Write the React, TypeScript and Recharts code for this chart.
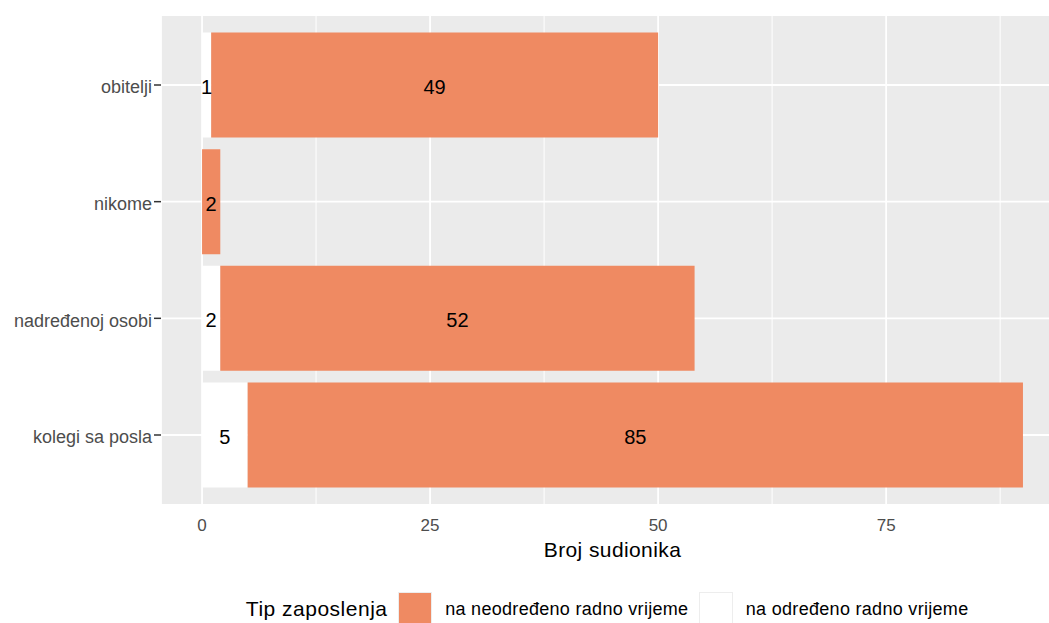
import { BarChart, Bar, XAxis, YAxis, CartesianGrid, LabelList, Legend } from 'recharts';

const categories = ['obitelji', 'nikome', 'nadređenoj osobi', 'kolegi sa posla'];
const naNeodredeno = [49, 2, 52, 85];
const naOdredeno = [1, 0, 2, 5];
const xTicks = [0, 25, 50, 75];
const xMinorTicks = [12.5, 37.5, 62.5, 87.5];

const FONT = 'Arial, "Liberation Sans", sans-serif';
const ORANGE = '#EF8A62';
const WHITE = '#FFFFFF';

const legendItems = [
    { label: 'na neodređeno radno vrijeme', color: ORANGE },
    { label: 'na određeno radno vrijeme', color: WHITE },
];

const data = categories.map((name, i) => ({
    name,
    odredeno: naOdredeno[i],
    neodredeno: naNeodredeno[i],
}));

// empty slices get no label (nikome has no "na određeno" count)
const hideZero = (v: any) => (v ? v : '');

const renderLegend = () => (
    <div style={{ display: 'flex', alignItems: 'center', justifyContent: 'center', height: 34, fontFamily: FONT }}>
        <span style={{ fontSize: 21, letterSpacing: 0.5, color: '#000', marginRight: 11 }}>Tip zaposlenja</span>
        {legendItems.map((item) => (
            <div key={item.label} style={{ display: 'flex', alignItems: 'center' }}>
                <div
                    style={{
                        width: 34,
                        height: 34,
                        boxSizing: 'border-box',
                        background: item.color,
                        border: '1px solid #EDEDED',
                    }}
                />
                <span style={{ fontSize: 18, letterSpacing: 0.3, color: '#000', marginLeft: 12.7, marginRight: 10.7 }}>
                    {item.label}
                </span>
            </div>
        ))}
    </div>
);

const App = () => {
    return (
        <div
            style={{
                position: 'absolute',
                left: 0,
                top: 0,
                width: 1049,
                height: 623,
                overflow: 'hidden',
                background: '#fff',
            }}
        >
            <BarChart
                width={1064}
                height={623}
                data={data}
                layout="vertical"
                margin={{ top: 15, right: 0, left: 0, bottom: 0 }}
                barCategoryGap="5%"
                style={{ fontFamily: FONT }}
            >
                <CartesianGrid
                    fill="#EBEBEB"
                    stroke="#FFFFFF"
                    strokeWidth={1}
                    horizontal={false}
                    verticalValues={xMinorTicks}
                />
                <CartesianGrid fill="none" stroke="#FFFFFF" strokeWidth={1.8} />
                <XAxis
                    type="number"
                    domain={[-4.5, 94.5]}
                    ticks={xTicks}
                    allowDataOverflow
                    axisLine={false}
                    tickLine={false}
                    tickSize={0}
                    tickMargin={14}
                    height={84}
                    tick={{ fill: '#4D4D4D', fontSize: 17 }}
                    label={{
                        value: 'Broj sudionika',
                        position: 'insideTop',
                        offset: 37,
                        fill: '#000',
                        fontSize: 21,
                        letterSpacing: 0.4,
                    }}
                />
                <YAxis
                    type="category"
                    dataKey="name"
                    width={161}
                    axisLine={false}
                    tickSize={7}
                    tickMargin={2}
                    tickLine={{ stroke: '#333333', strokeWidth: 1.5 }}
                    padding={{ top: 11.67, bottom: 11.67 }}
                    tick={{ fill: '#4D4D4D', fontSize: 18, dy: 2 }}
                />
                <Legend
                    verticalAlign="bottom"
                    content={renderLegend}
                    wrapperStyle={{ left: 161, bottom: -3, width: 903, height: 34 }}
                />
                <Bar dataKey="odredeno" stackId="a" fill={WHITE} isAnimationActive={false}>
                    <LabelList
                        dataKey="odredeno"
                        position="center"
                        fill="#000"
                        fontSize={20}
                        dy={2}
                        formatter={hideZero}
                    />
                </Bar>
                <Bar dataKey="neodredeno" stackId="a" fill={ORANGE} isAnimationActive={false}>
                    <LabelList
                        dataKey="neodredeno"
                        position="center"
                        fill="#000"
                        fontSize={20}
                        dy={2}
                        formatter={hideZero}
                    />
                </Bar>
            </BarChart>
        </div>
    );
};

export default App;
